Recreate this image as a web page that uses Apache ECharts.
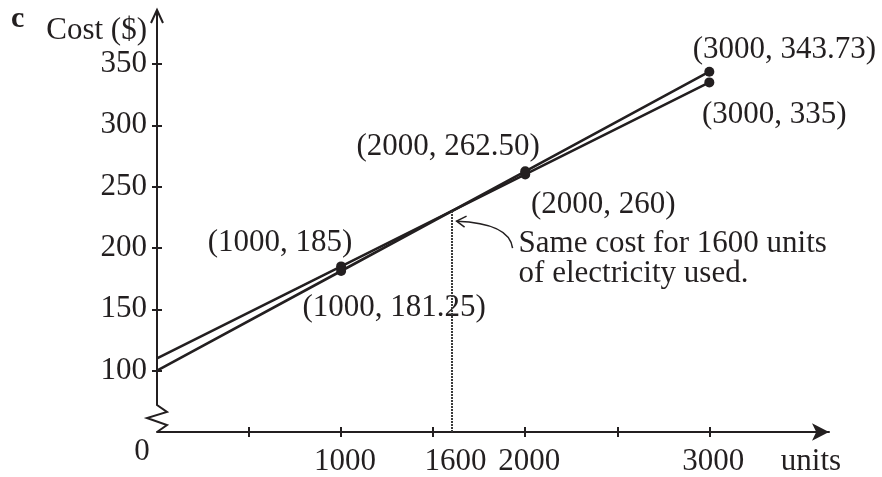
<!DOCTYPE html>
<html>
<head>
<meta charset="utf-8">
<script src="https://cdn.jsdelivr.net/npm/echarts@6/dist/echarts.min.js"></script>
<style>
  html, body { margin: 0; padding: 0; background: #ffffff; }
  #chart { width: 882px; height: 477px; }
</style>
</head>
<body>
<div id="chart"></div>
<script>
// ---- data ----
const xValues = [0, 1000, 2000, 3000];
const costA = [110, 185, 260, 335];          // upper-left line
const costB = [100, 181.25, 262.5, 343.73];  // steeper line
const pointLabelsA = ['(1000, 185)', '(2000, 260)', '(3000, 335)'];
const pointLabelsB = ['(1000, 181.25)', '(2000, 262.50)', '(3000, 343.73)'];
const xTickValues = [500, 1000, 1500, 2000, 2500, 3000];
const xTickLabels = [1000, 1600, 2000, 3000];
const yTickLabels = [100, 150, 200, 250, 300, 350];
const crossX = 1600;
const crossCost = 230;
const annotationLines = ['Same cost for 1600 units', 'of electricity used.'];

// ---- styles ----
const INK = '#231f20';
const FONT = "'Liberation Serif', 'Times New Roman', serif";
const FS = 31;
const labelOffsetsA = [[-61, -24], [78, 30], [65, 32]];
const labelOffsetsB = [[53, 37], [-77, -24], [75, -22]];

const chart = echarts.init(document.getElementById('chart'), null, { renderer: 'canvas' });

function linePairs(costs) { return xValues.map((x, i) => [x, costs[i]]); }
function dotItems(costs, labels, offsets) {
  return xValues.slice(1).map((x, i) => ({
    value: [x, costs[i + 1]],
    label: { formatter: labels[i], offset: offsets[i], color: INK, opacity: 1 }
  }));
}

const xBase = { type: 'value', min: 0, max: 3650, interval: 500, splitLine: { show: false } };
const yBase = { type: 'value', min: 50, max: 394, interval: 50, splitLine: { show: false } };

const dotLabel = {
  show: true, position: 'inside', align: 'center', verticalAlign: 'middle',
  color: INK, opacity: 1, fontFamily: FONT, fontSize: FS, textBorderWidth: 0
};

const option = {
  animation: false,
  backgroundColor: '#ffffff',
  grid: { left: 157, right: 53, top: 10, bottom: 45, containLabel: false },
  xAxis: [
    Object.assign({}, xBase, {
      position: 'bottom',
      axisLine: { show: true, lineStyle: { color: INK, width: 2 }, symbol: ['none', 'arrow'], symbolSize: [13, 17] },
      axisTick: { show: true, customValues: xTickValues, length: 5, lineStyle: { color: INK, width: 2 } },
      axisLabel: {
        show: true, customValues: xTickLabels, margin: 14,
        color: INK, fontFamily: FONT, fontSize: FS,
        formatter: v => '{a|' + v + '}',
        rich: { a: { color: INK, fontFamily: FONT, fontSize: FS, padding: [0, 0, 0, 8] } }
      }
    }),
    Object.assign({}, xBase, {
      position: 'bottom',
      axisLine: { show: false },
      axisTick: { show: true, inside: true, customValues: xTickValues, length: 5, lineStyle: { color: INK, width: 2 } },
      axisLabel: { show: false }
    })
  ],
  yAxis: [
    Object.assign({}, yBase, {
      position: 'left',
      axisLine: { show: false },
      axisTick: { show: true, customValues: yTickLabels, length: 5, lineStyle: { color: INK, width: 2 } },
      axisLabel: {
        show: true, customValues: yTickLabels, margin: 10,
        color: INK, fontFamily: FONT, fontSize: FS,
        padding: [6, 0, 0, 0]
      }
    }),
    Object.assign({}, yBase, {
      position: 'left',
      axisLine: { show: false },
      axisTick: { show: true, inside: true, customValues: yTickLabels, length: 5, lineStyle: { color: INK, width: 2 } },
      axisLabel: { show: false }
    })
  ],
  series: [
    {
      type: 'line', name: 'A', data: linePairs(costA), symbol: 'none',
      lineStyle: { color: INK, width: 2.6 }, silent: true, z: 3
    },
    {
      type: 'line', name: 'B', data: linePairs(costB), symbol: 'none',
      lineStyle: { color: INK, width: 2.6 }, silent: true, z: 3,
      markLine: {
        silent: true, symbol: ['none', 'none'], label: { show: false },
        lineStyle: { color: '#3a3a3a', width: 2, type: [2, 1] },
        data: [[{ coord: [crossX, 50] }, { coord: [crossX, crossCost] }]]
      }
    },
    {
      type: 'scatter', name: 'A dots', data: dotItems(costA, pointLabelsA, labelOffsetsA),
      symbolSize: 10, itemStyle: { color: INK, opacity: 1 }, silent: true, z: 4,
      label: dotLabel
    },
    {
      type: 'scatter', name: 'B dots', data: dotItems(costB, pointLabelsB, labelOffsetsB),
      symbolSize: 10, itemStyle: { color: INK, opacity: 1 }, silent: true, z: 4,
      label: dotLabel
    }
  ]
};

chart.setOption(option);

// ---- decorations derived from the axes ----
const toPx = (x, y) => chart.convertToPixel({ gridIndex: 0 }, [x, y]);
const originPx = toPx(0, 50);
const topPx = toPx(0, 394);
const xEndPx = toPx(3650, 50);
const crossPx = toPx(crossX, crossCost);
const ox = originPx[0], oy = originPx[1], ty = topPx[1];
const cx = crossPx[0], cy = crossPx[1];

const graphics = [
  // y axis with break
  { type: 'polyline', silent: true, z: 10,
    shape: { points: [[ox, ty], [ox, oy - 27], [ox + 10, oy - 20], [ox - 10, oy - 14], [ox + 10, oy - 7], [ox, oy]] },
    style: { stroke: INK, lineWidth: 2, fill: null } },
  // y axis arrow head
  { type: 'polyline', silent: true, z: 10,
    shape: { points: [[ox - 6, ty + 13], [ox, ty], [ox + 6, ty + 13]] },
    style: { stroke: INK, lineWidth: 2, fill: null } },
  { type: 'text', silent: true, z: 10, x: 11, y: 19,
    style: { text: 'c', fontFamily: FONT, fontWeight: 'bold', fontSize: 30, fill: INK, align: 'left', verticalAlign: 'middle' } },
  { type: 'text', silent: true, z: 10, x: ox - 10, y: 31,
    style: { text: 'Cost ($)', fontFamily: FONT, fontSize: FS, fill: INK, align: 'right', verticalAlign: 'middle' } },
  { type: 'text', silent: true, z: 10, x: ox - 15, y: oy + 20,
    style: { text: '0', fontFamily: FONT, fontSize: FS, fill: INK, align: 'center', verticalAlign: 'middle' } },
  { type: 'text', silent: true, z: 10, x: xEndPx[0] - 18, y: oy + 30,
    style: { text: 'units', fontFamily: FONT, fontSize: FS, fill: INK, align: 'center', verticalAlign: 'middle' } },
  // curved pointer
  { type: 'bezierCurve', silent: true, z: 10,
    shape: { x1: cx + 61, y1: cy + 37, cpx1: cx + 58, cpy1: cy + 12, x2: cx + 5, y2: cy + 10 },
    style: { stroke: INK, lineWidth: 1.5, fill: null } },
  { type: 'polyline', silent: true, z: 10,
    shape: { points: [[cx + 15, cy + 5], [cx + 5, cy + 10], [cx + 13, cy + 16]] },
    style: { stroke: INK, lineWidth: 1.5, fill: null } },
  { type: 'text', silent: true, z: 10, x: cx + 67, y: cy + 18,
    style: { text: annotationLines.join('\n'), fontFamily: FONT, fontSize: FS, lineHeight: 30, fill: INK, align: 'left', verticalAlign: 'top' } }
];

chart.setOption({ graphic: graphics });
</script>
</body>
</html>
